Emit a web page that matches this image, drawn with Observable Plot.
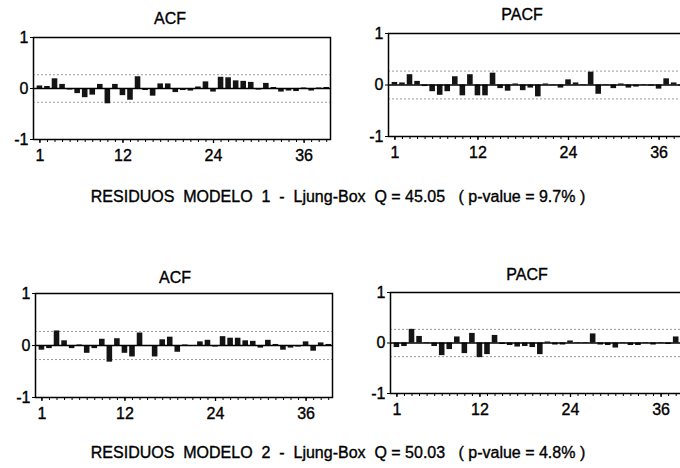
<!DOCTYPE html>
<html>
<head>
<meta charset="utf-8">
<script src="https://cdn.jsdelivr.net/npm/d3@7"></script>
<script src="https://cdn.jsdelivr.net/npm/@observablehq/plot@0.6"></script>
<style>
  html, body { margin: 0; padding: 0; background: #fff; overflow: hidden; }
  #root { position: relative; width: 680px; height: 468px; overflow: hidden; background: #fff;
          font-family: "Liberation Sans", Arial, sans-serif; color: #000; }
  .panel { position: absolute; }
  .panel text { stroke: #000; stroke-width: 0.35px; }
  .title, .caption { position: absolute; font-size: 16px; line-height: 1; transform: translate(-50%, -50%);
                     white-space: pre; -webkit-text-stroke: 0.35px #000; }
</style>
</head>
<body>
<div id="root"></div>
<script>
const lags = [1,2,3,4,5,6,7,8,9,10,11,12,13,14,15,16,17,18,19,20,21,22,23,24,25,26,27,28,29,30,31,32,33,34,35,36,37,38,39];
const labelTicks = [1, 12, 24, 36];
const yTicks = [-1, 0, 1];
const band = 0.27;

const acf1 = [0.05,0.04,0.19,0.08,-0.03,-0.10,-0.18,-0.13,0.08,-0.30,0.08,-0.14,-0.23,0.23,-0.04,-0.15,0.09,0.09,-0.08,-0.04,-0.05,0.03,0.13,-0.07,0.22,0.21,0.15,0.14,0.12,-0.03,0.10,0.02,-0.07,-0.05,-0.06,0.01,-0.05,0.01,0.02];
const pacf1 = [0.05,0.04,0.20,0.07,-0.03,-0.13,-0.20,-0.13,0.16,-0.21,0.20,-0.21,-0.21,0.23,-0.07,-0.12,0.02,-0.11,-0.06,-0.23,0.02,-0.01,-0.06,0.10,0.04,-0.01,0.25,-0.18,0.01,-0.07,0.02,-0.06,-0.04,0.01,-0.02,-0.08,0.12,0.04,-0.02];
const acf2 = [-0.09,-0.06,0.28,0.09,-0.06,0.01,-0.15,-0.06,0.12,-0.32,0.13,-0.15,-0.22,0.24,-0.02,-0.22,0.11,0.16,-0.13,0.01,-0.01,0.07,0.10,-0.03,0.17,0.14,0.14,0.09,0.08,-0.05,0.10,0.02,-0.09,-0.05,-0.03,0.07,-0.11,0.05,0.02];
const pacf2 = [-0.09,-0.07,0.27,0.13,-0.01,-0.07,-0.25,-0.13,0.12,-0.21,0.19,-0.29,-0.23,0.15,-0.03,-0.05,-0.08,-0.07,-0.09,-0.23,0.02,-0.04,-0.04,0.04,-0.01,0.01,0.18,-0.04,-0.05,-0.10,0.01,-0.05,-0.05,0.01,-0.04,0.01,-0.03,0.12,0.02];

const titles = ["ACF", "PACF"];
const captions = [
  "RESIDUOS  MODELO  1  -  Ljung-Box  Q = 45.05   ( p-value = 9.7% )",
  "RESIDUOS  MODELO  2  -  Ljung-Box  Q = 50.03   ( p-value = 4.8% )"
];

const root = document.getElementById("root");
const ML = 33, MT = 10, MR = 12, MB = 30, FW = 297;

function panel(values, frameLeft, frameTop, fh) {
  const data = lags.map((lag, i) => ({lag, v: values[i]}));
  const chart = Plot.plot({
    width: ML + FW + MR,
    height: MT + fh + MB,
    marginLeft: ML, marginTop: MT, marginRight: MR, marginBottom: MB,
    x: {domain: [0.15, 39.5], axis: null},
    y: {domain: [-1, 1], axis: null},
    style: {fontFamily: "'Liberation Sans', Arial, sans-serif", fontSize: "16px", color: "#000", background: "transparent", overflow: "visible"},
    marks: [
      Plot.ruleY([band, -band], {stroke: "#9a9a9a", strokeWidth: 1, strokeDasharray: "2,2"}),
      Plot.rect(data, {x1: d => d.lag - 0.37, x2: d => d.lag + 0.37, y1: 0, y2: "v", fill: "#141414"}),
      Plot.ruleY([0], {stroke: "#000", strokeWidth: 1.5}),
      Plot.axisX({ticks: lags, tickSize: 3, tickFormat: () => "", label: null, stroke: "#000", strokeWidth: 1}),
      Plot.axisX({ticks: labelTicks, tickSize: 4, tickPadding: 6, tickFormat: d => String(d), label: null, fill: "#000", stroke: "#000", strokeWidth: 1.3}),
      Plot.axisY({ticks: yTicks, tickSize: 3, tickPadding: 2, tickFormat: d => String(d), label: null, fill: "#000", stroke: "#000"}),
      Plot.frame({stroke: "#000", strokeWidth: 1.5})
    ]
  });
  chart.classList.add("panel");
  chart.style.left = (frameLeft - ML) + "px";
  chart.style.top = (frameTop - MT) + "px";
  root.appendChild(chart);
}

function addText(cls, text, cx, cy) {
  const d = document.createElement("div");
  d.className = cls;
  d.textContent = text;
  d.style.left = cx + "px";
  d.style.top = cy + "px";
  root.appendChild(d);
}

panel(acf1, 33, 37, 102);
panel(pacf1, 388, 33, 103);
panel(acf2, 35, 293, 104);
panel(pacf2, 390, 292, 101);

addText("title", titles[0], 170, 19);
addText("title", titles[1], 522, 15);
addText("title", titles[0], 175, 278);
addText("title", titles[1], 527, 275);
addText("caption", captions[0], 338, 197);
addText("caption", captions[1], 338, 453);
</script>
</body>
</html>
